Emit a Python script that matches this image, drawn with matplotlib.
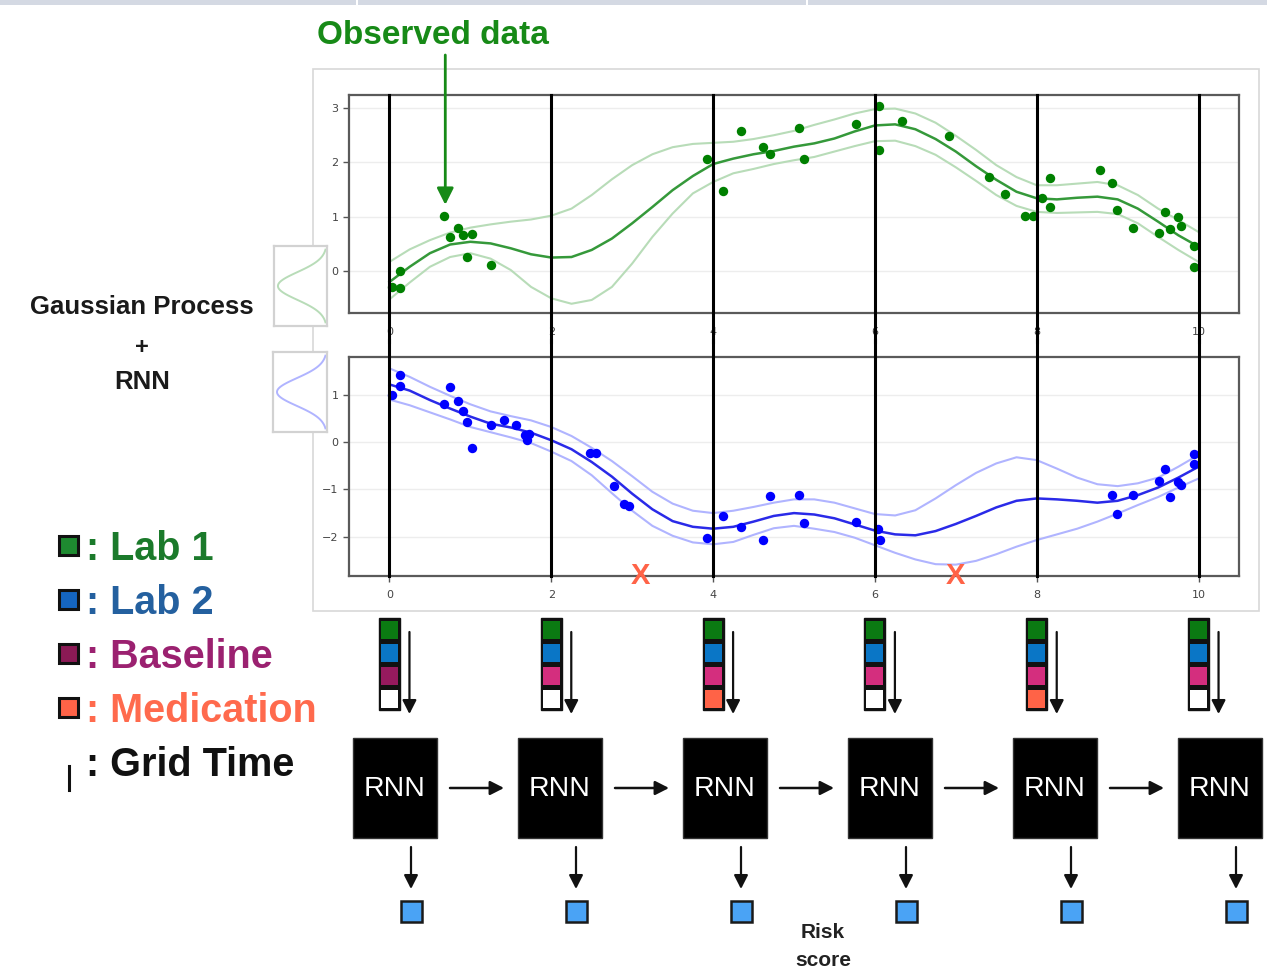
import numpy as np
import matplotlib
matplotlib.use("Agg")
import matplotlib.pyplot as plt
from matplotlib.patches import Rectangle
from matplotlib.transforms import blended_transform_factory

# ---------------------------------------------------------------- data
grid_times = [0, 2, 4, 6, 8, 10]
curve_t = np.linspace(0, 10, 41)

lab1_mean = [-0.20, 0.08, 0.33, 0.49, 0.54, 0.51, 0.42, 0.31, 0.25, 0.26, 0.39,
             0.60, 0.88, 1.18, 1.49, 1.75, 1.97, 2.07, 2.15, 2.21, 2.29, 2.35,
             2.44, 2.57, 2.68, 2.70, 2.61, 2.43, 2.20, 1.93, 1.68, 1.46, 1.34,
             1.32, 1.35, 1.37, 1.32, 1.15, 0.91, 0.66, 0.45]
lab1_upper = [0.17, 0.40, 0.57, 0.71, 0.80, 0.86, 0.91, 0.95, 1.02, 1.15, 1.40,
              1.69, 1.95, 2.15, 2.28, 2.34, 2.36, 2.38, 2.43, 2.50, 2.58, 2.69,
              2.79, 2.90, 2.98, 2.99, 2.90, 2.73, 2.49, 2.23, 1.95, 1.73, 1.58,
              1.58, 1.61, 1.64, 1.58, 1.40, 1.15, 0.94, 0.72]
lab1_lower = [-0.52, -0.21, 0.08, 0.26, 0.33, 0.23, 0.02, -0.29, -0.50, -0.60,
              -0.53, -0.29, 0.14, 0.63, 1.06, 1.43, 1.64, 1.80, 1.88, 1.97, 2.04,
              2.10, 2.20, 2.30, 2.39, 2.40, 2.30, 2.14, 1.91, 1.66, 1.40, 1.20,
              1.09, 1.07, 1.08, 1.09, 1.05, 0.88, 0.63, 0.39, 0.17]
lab1_obs_t = [0.03, 0.13, 0.13, 0.68, 0.75, 0.85, 0.91, 1.02, 0.96, 1.26, 3.93,
              4.12, 4.35, 4.62, 4.70, 5.06, 5.12, 5.77, 6.05, 6.05, 6.33, 6.91,
              7.41, 7.61, 7.86, 7.95, 8.06, 8.17, 8.17, 8.78, 8.93, 8.99, 9.19,
              9.51, 9.58, 9.65, 9.74, 9.78, 9.94, 9.94]
lab1_obs_v = [-0.29, -0.31, 0.01, 1.02, 0.62, 0.80, 0.66, 0.68, 0.26, 0.12, 2.06,
              1.48, 2.58, 2.28, 2.15, 2.64, 2.06, 2.70, 3.04, 2.23, 2.76, 2.49,
              1.74, 1.42, 1.02, 1.02, 1.34, 1.71, 1.18, 1.86, 1.63, 1.12, 0.80,
              0.71, 1.09, 0.77, 1.00, 0.83, 0.47, 0.08]

lab2_mean = [1.22, 1.09, 0.89, 0.71, 0.54, 0.39, 0.31, 0.20, 0.04, -0.15, -0.42,
             -0.73, -1.09, -1.42, -1.67, -1.79, -1.83, -1.79, -1.68, -1.56, -1.50,
             -1.53, -1.61, -1.74, -1.87, -1.95, -1.97, -1.88, -1.73, -1.56, -1.38,
             -1.24, -1.19, -1.21, -1.24, -1.28, -1.24, -1.12, -0.96, -0.75, -0.52]
lab2_upper = [1.56, 1.38, 1.17, 0.98, 0.80, 0.65, 0.55, 0.46, 0.32, 0.13, -0.12,
              -0.40, -0.72, -1.05, -1.30, -1.45, -1.50, -1.45, -1.37, -1.28, -1.21,
              -1.21, -1.28, -1.40, -1.52, -1.55, -1.44, -1.19, -0.91, -0.65, -0.45,
              -0.32, -0.38, -0.56, -0.75, -0.89, -0.93, -0.87, -0.75, -0.52, -0.27]
lab2_lower = [0.90, 0.78, 0.63, 0.48, 0.32, 0.21, 0.10, -0.02, -0.20, -0.40, -0.70,
              -1.08, -1.45, -1.77, -1.98, -2.12, -2.16, -2.11, -1.96, -1.82, -1.77,
              -1.83, -1.90, -2.02, -2.18, -2.34, -2.48, -2.58, -2.59, -2.51, -2.37,
              -2.21, -2.07, -1.95, -1.83, -1.68, -1.51, -1.33, -1.16, -0.96, -0.77]
lab2_obs_t = [0.03, 0.13, 0.13, 0.68, 0.75, 0.85, 0.91, 0.96, 1.02, 1.26, 1.41,
              1.57, 1.68, 1.73, 1.70, 2.48, 2.55, 2.77, 2.90, 2.96, 3.93, 4.12,
              4.35, 4.62, 4.70, 5.06, 5.12, 5.77, 6.04, 6.06, 8.93, 8.99, 9.19,
              9.51, 9.58, 9.65, 9.74, 9.78, 9.94, 9.94]
lab2_obs_v = [0.99, 1.42, 1.18, 0.80, 1.16, 0.87, 0.66, 0.43, -0.13, 0.37, 0.47,
              0.36, 0.15, 0.17, 0.04, -0.22, -0.22, -0.92, -1.31, -1.35, -2.02,
              -1.56, -1.79, -2.06, -1.13, -1.11, -1.71, -1.68, -1.83, -2.06, -1.12,
              -1.52, -1.12, -0.82, -0.56, -1.16, -0.84, -0.91, -0.26, -0.46]

medication_times = [3.1, 7.0]
highlight_obs = (0.69, 1.02)          # the observation pointed at by the label

# input vector at each grid time: lab1, lab2, baseline, medication
baseline_colors = ["#961a5e", "#d42e7e", "#d42e7e", "#d42e7e", "#d42e7e", "#d42e7e"]
medication_given = [False, False, True, False, True, False]

legend_labels = [": Lab 1", ": Lab 2", ": Baseline", ": Medication", ": Grid Time"]
legend_text_colors = ["#1b7a2b", "#24609f", "#9b2170", "#ff6a4d", "#111111"]
legend_box_colors = ["#1e8a30", "#1565c0", "#8b1a55", "#ff6347", None]

# ---------------------------------------------------------------- colours
GREEN_PT, GREEN_MEAN, GREEN_BAND = "#008000", "#35993a", "#b8dcb8"
BLUE_PT, BLUE_MEAN, BLUE_BAND = "#0000ff", "#2a2ae8", "#b0b4ff"
CELL_GREEN, CELL_BLUE, CELL_MED = "#0b7a12", "#0a76c6", "#ff6347"
SANS = ["Liberation Sans", "DejaVu Sans"]
SMALL_HEAD = "-|>,head_length=0.55,head_width=0.28"

W, H = 1267, 973
fig = plt.figure(figsize=(W / 100, H / 100), dpi=100)


def pix_rect(x0, y0, x1, y1):
    return [x0 / W, 1 - y1 / H, (x1 - x0) / W, (y1 - y0) / H]


# background layer (page decorations)
bg = fig.add_axes([0, 0, 1, 1], zorder=0)
bg.set_xlim(0, W)
bg.set_ylim(H, 0)
bg.axis("off")
for x0, x1 in [(0, 356), (358, 806), (808, W)]:
    bg.add_patch(Rectangle((x0, 0), x1 - x0, 5, color="#d4d9e3", lw=0))
bg.add_patch(Rectangle((313, 69), 1259 - 313, 611 - 69, fill=False,
                       ec="#d8d8d8", lw=1.2))

# ---------------------------------------------------------------- GP panels
ax1 = fig.add_axes(pix_rect(349, 95, 1239, 313), zorder=1)
ax2 = fig.add_axes(pix_rect(349, 357, 1239, 576), zorder=1)
ax1.set_ylim(-0.77, 3.24)
ax2.set_ylim(-2.83, 1.80)
ax1.set_yticks([0, 1, 2, 3])
ax2.set_yticks([-2, -1, 0, 1])

for ax in (ax1, ax2):
    ax.set_xlim(-0.5, 10.5)
    ax.set_xticks(grid_times)
    for sp in ax.spines.values():
        sp.set_color("#5a5a5a")
        sp.set_linewidth(1.6)
    ax.tick_params(labelsize=8, labelcolor="#444444", color="#555555",
                   length=4, width=1)
    ax.tick_params(axis="x", pad=6)
    ax.grid(axis="y", color="#ededed", lw=1)
    ax.set_axisbelow(True)

ax1.plot(curve_t, lab1_upper, color=GREEN_BAND, lw=1.5, zorder=2)
ax1.plot(curve_t, lab1_lower, color=GREEN_BAND, lw=1.5, zorder=2)
ax1.plot(curve_t, lab1_mean, color=GREEN_MEAN, lw=1.8, zorder=3)
ax1.scatter(lab1_obs_t, lab1_obs_v, s=46, color=GREEN_PT, lw=0, zorder=4)

ax2.plot(curve_t, lab2_upper, color=BLUE_BAND, lw=1.5, zorder=2)
ax2.plot(curve_t, lab2_lower, color=BLUE_BAND, lw=1.5, zorder=2)
ax2.plot(curve_t, lab2_mean, color=BLUE_MEAN, lw=1.8, zorder=3)
ax2.scatter(lab2_obs_t, lab2_obs_v, s=46, color=BLUE_PT, lw=0, zorder=4)

# grid-time lines running through both panels
tr1 = blended_transform_factory(ax1.transData, fig.transFigure)
tr2 = blended_transform_factory(ax2.transData, fig.transFigure)
for t in grid_times:
    ax1.plot([t, t], [1 - 95 / H, 1 - 342 / H], transform=tr1, color="black",
             lw=2.2, clip_on=False, zorder=5)
    ax2.plot([t, t], [1 - 340 / H, 1 - 576 / H], transform=tr2, color="black",
             lw=2.2, clip_on=False, zorder=5)

# medication events
for t in medication_times:
    ax2.text(t, ax2.get_ylim()[0], "X", color="#ff6347", fontsize=21,
             fontweight="bold", family=SANS, ha="center", va="center",
             zorder=6, clip_on=False)

# "Observed data" pointer
ax1.annotate("", xy=(highlight_obs[0], highlight_obs[1] + 0.2), xycoords="data",
             xytext=(highlight_obs[0], 1 - 55 / H), textcoords=tr1,
             annotation_clip=False,
             arrowprops=dict(arrowstyle="-|>,head_length=0.5,head_width=0.25",
                             mutation_scale=20, color="#178a17", lw=2,
                             shrinkA=0, shrinkB=0))

# Gaussian icons next to the panels
for box, col in [((274, 246, 327, 326), GREEN_BAND), ((273, 352, 327, 432), BLUE_BAND)]:
    ia = fig.add_axes(pix_rect(*box), zorder=2)
    s = np.linspace(-1, 1, 120)
    ia.plot(1 - np.exp(-0.5 * (s / 0.38) ** 2), s, color=col, lw=1.4)
    ia.set_xlim(-0.08, 1.0)
    ia.set_ylim(-1.1, 1.1)
    ia.set_xticks([])
    ia.set_yticks([])
    for sp in ia.spines.values():
        sp.set_color("#d2d2d2")
        sp.set_linewidth(1.6)

# ---------------------------------------------------------------- foreground diagram
fg = fig.add_axes([0, 0, 1, 1], zorder=10)
fg.set_xlim(0, W)
fg.set_ylim(H, 0)
fg.axis("off")
fg.patch.set_alpha(0)

fg.text(433, 36, "Observed data", color="#178a17", fontsize=24, fontweight="bold",
        family=["Liberation Sans Narrow", "Liberation Sans", "DejaVu Sans"],
        ha="center", va="center")

fg.text(142, 307, "Gaussian Process", fontsize=18.5, fontweight="bold", family=SANS,
        ha="center", va="center", color="#1a1a1a")
fg.text(142, 347, "+", fontsize=17, fontweight="bold", family=SANS,
        ha="center", va="center", color="#1a1a1a")
fg.text(142, 382, "RNN", fontsize=18.5, fontweight="bold", family=SANS,
        ha="center", va="center", color="#1a1a1a")

# legend
for i, (lab, tc, bc) in enumerate(zip(legend_labels, legend_text_colors, legend_box_colors)):
    base = 560 + 54 * i
    if bc is not None:
        fg.add_patch(Rectangle((59, base - 24), 19, 19, fc=bc, ec="#111111", lw=2.2))
    else:
        fg.plot([69, 69], [base - 10, base + 14], color="#111111", lw=2.2)
    fg.text(86, base, lab, color=tc, fontsize=28.5, fontweight="bold", family=SANS,
            ha="left", va="baseline")

# input vectors at grid times (aligned with the grid lines)
for i, t in enumerate(grid_times):
    sx = ax2.transData.transform((t, 0))[0]
    fg.add_patch(Rectangle((sx - 10.5, 618), 21, 92, fc="#111111", ec="#111111", lw=1))
    cells = [CELL_GREEN, CELL_BLUE, baseline_colors[i],
             CELL_MED if medication_given[i] else "white"]
    for k, c in enumerate(cells):
        fg.add_patch(Rectangle((sx - 8.5, 620.5 + 23 * k), 17, 18.5, fc=c, lw=0))
    fg.annotate("", xy=(sx + 20, 714), xytext=(sx + 20, 632),
                arrowprops=dict(arrowstyle=SMALL_HEAD, mutation_scale=15,
                                color="#111111", lw=1.6, shrinkA=0, shrinkB=0))

# RNN chain
n_steps = len(grid_times)
for i in range(n_steps):
    cx = 395 + 165 * i
    fg.add_patch(Rectangle((cx - 42, 738), 84, 100, fc="black", ec="#333333", lw=1))
    fg.text(cx, 789, "RNN", color="white", fontsize=20.5, family=SANS,
            ha="center", va="center")
    if i < n_steps - 1:
        fg.annotate("", xy=(cx + 165 - 56, 788), xytext=(cx + 55, 788),
                    arrowprops=dict(arrowstyle=SMALL_HEAD, mutation_scale=15,
                                    color="#111111", lw=1.8, shrinkA=0, shrinkB=0))
    fg.annotate("", xy=(cx + 16, 889), xytext=(cx + 16, 847),
                arrowprops=dict(arrowstyle=SMALL_HEAD, mutation_scale=15,
                                color="#111111", lw=1.6, shrinkA=0, shrinkB=0))
    fg.add_patch(Rectangle((cx + 16 - 10.5, 900.5), 21, 21, fc="#4aa3f5",
                           ec="#1a1a1a", lw=1.8))

fg.text(823, 932, "Risk", fontsize=15, fontweight="bold", family=SANS,
        ha="center", va="center", color="#222222")
fg.text(823, 961, "score", fontsize=15, fontweight="bold", family=SANS,
        ha="center", va="center", color="#222222")

fig.savefig("out.png", dpi=100)
